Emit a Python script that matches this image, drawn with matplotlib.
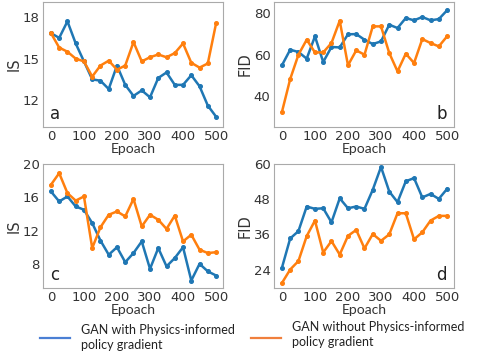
import numpy as np
import matplotlib
matplotlib.use("Agg")
import matplotlib.pyplot as plt
from matplotlib.lines import Line2D

epochs = np.arange(0, 501, 25)

# panel a: IS
is_a_with = [16.85, 16.5, 17.7, 16.1, 14.8, 13.5, 13.4, 12.8, 14.5, 13.1, 12.3,
             12.7, 12.2, 13.6, 14.0, 13.1, 13.1, 13.8, 13.0, 11.6, 10.8]
is_a_without = [16.85, 15.8, 15.5, 15.0, 14.8, 13.7, 14.5, 14.85, 14.2, 14.5, 16.2,
                14.8, 15.1, 15.3, 15.1, 15.4, 16.1, 14.7, 14.35, 14.65, 17.55]
# panel b: FID
fid_b_with = [54.9, 62.4, 61.3, 58.1, 68.8, 56.5, 63.7, 63.5, 69.8, 69.9, 67.2,
              65.1, 66.4, 74.4, 72.8, 77.6, 76.5, 78.1, 76.5, 77.1, 81.3]
fid_b_without = [32.5, 48.3, 60.0, 67.2, 61.1, 61.1, 65.6, 76.3, 54.9, 62.1, 60.0,
                 73.6, 73.6, 60.8, 52.0, 60.5, 56.0, 67.5, 65.6, 64.0, 68.8]
# panel c: IS
is_c_with = [16.7, 15.5, 16.1, 14.9, 14.5, 12.9, 10.8, 9.1, 10.0, 8.2, 9.3,
             10.7, 7.4, 9.9, 7.7, 8.7, 10.0, 6.0, 8.0, 7.1, 6.6]
is_c_without = [17.5, 18.9, 16.5, 15.6, 16.1, 9.9, 12.4, 13.9, 14.3, 13.7, 15.8,
                12.5, 13.9, 13.3, 12.2, 13.8, 10.7, 11.5, 9.7, 9.3, 9.4]
# panel d: FID
fid_d_with = [24.6, 34.6, 37.1, 45.5, 44.7, 44.9, 40.1, 48.3, 44.9, 45.5, 44.7,
              51.2, 59.0, 50.6, 47.0, 54.1, 55.2, 48.6, 49.8, 48.1, 51.5]
fid_d_without = [19.4, 24.0, 26.9, 35.4, 40.7, 29.8, 33.7, 29.1, 35.5, 37.5, 31.2,
                 36.1, 33.8, 36.0, 43.2, 43.2, 34.3, 36.7, 40.7, 42.3, 42.3]

panels = [
    ("a", "IS", is_a_with, is_a_without, (10.05, 19.1), [12, 15, 18], "left"),
    ("b", "FID", fid_b_with, fid_b_without, (25.3, 85.3), [40, 60, 80], "right"),
    ("c", "IS", is_c_with, is_c_without, (5.1, 20.0), [8, 12, 16, 20], "left"),
    ("d", "FID", fid_d_with, fid_d_without, (17.7, 60.0), [24, 36, 48, 60], "right"),
]

W, H = 485, 357
boxes = [(43, 2, 180, 125), (274, 2, 180, 125), (43, 164, 180, 124), (274, 164, 180, 124)]

fig = plt.figure(figsize=(W / 100, H / 100), dpi=100)

for (letter, ylab, yw, ywo, ylim, yt, side), (x0, y0, w, h) in zip(panels, boxes):
    ax = fig.add_axes([x0 / W, 1 - (y0 + h) / H, w / W, h / H])
    ax.plot(epochs, yw, color="#1f77b4", lw=1.8, marker="o", ms=2.6)
    ax.plot(epochs, ywo, color="#ff7f0e", lw=1.8, marker="o", ms=2.6)
    ax.set_xlim(-24, 521)
    ax.set_ylim(*ylim)
    ax.set_xticks([0, 100, 200, 300, 400, 500])
    ax.set_yticks(yt)
    ax.tick_params(length=0, pad=2.5, labelsize=9.5, colors="#333333")
    for s in ax.spines.values():
        s.set_color("#aaaaaa")
    ax.set_ylabel(ylab, fontsize=10.5, color="#333333", labelpad=1)
    ax.set_xlabel("Epoach", fontsize=10, family="Lato", color="#333333", labelpad=-0.5)
    if side == "left":
        ax.text(0.04, 0.03, letter, transform=ax.transAxes, fontsize=12,
                ha="left", va="bottom", color="#222222")
    else:
        ax.text(0.96, 0.03, letter, transform=ax.transAxes, fontsize=12,
                ha="right", va="bottom", color="#222222")

# legend below
fig.add_artist(Line2D([40 / W, 70 / W], [1 - 338 / H] * 2, color="#4a7fd4", lw=1.6))
fig.add_artist(Line2D([251 / W, 281 / W], [1 - 338 / H] * 2, color="#f07f3c", lw=1.6))
fig.text(81 / W, 1 - 337.5 / H, "GAN with Physics-informed\npolicy gradient", family="Lato",
         fontsize=9, va="center", ha="left", color="#222222", linespacing=1.25)
fig.text(292 / W, 1 - 334.5 / H, "GAN without Physics-informed\npolicy gradient", family="Lato",
         fontsize=9, va="center", ha="left", color="#222222", linespacing=1.25)

fig.savefig("out.png", dpi=100)
